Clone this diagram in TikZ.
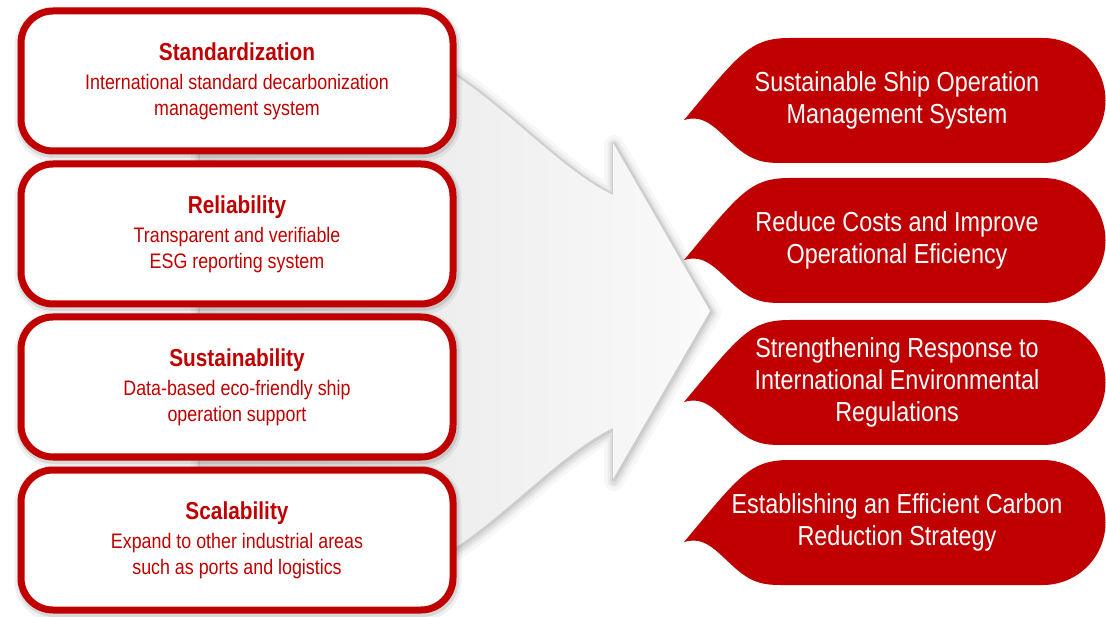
\documentclass[tikz,border=0pt]{standalone}
\usepackage{fontspec}
\setmainfont[FakeStretch=0.85]{Liberation Sans}
\usepackage{tikz}
\usetikzlibrary{positioning}
\usetikzlibrary{shadows}
\definecolor{darkred}{HTML}{C00000}
\newcommand{\boxtitle}[1]{{\bfseries\fontsize{24.5}{26}\selectfont #1}}
\newcommand{\arrowoutline}{(200,40) -- (440,66) .. controls (500,100) and (560,170) .. (613,195) -- (613,143) -- (710,311) -- (613,479) -- (613,428) .. controls (560,453) and (500,523) .. (440,557) -- (200,583) -- cycle}

\begin{document}
\begin{tikzpicture}[x=1pt, y=-1pt,
    valuebox/.style={draw=darkred, line width=7pt, fill=white, outer sep=0pt,
    rounded corners=32pt, minimum width=432pt, minimum height=140pt,
    align=center, text=darkred, font=\fontsize{21}{26}\selectfont,
    general shadow={fill=none, draw=black, line width=15pt, opacity=0.06, shadow xshift=1pt, shadow yshift=-3pt},
    general shadow={fill=none, draw=black, line width=10pt, opacity=0.1, shadow xshift=1pt, shadow yshift=-2pt}},
    tagtext/.style={align=center, text=white, font=\fontsize{27.5}{32}\selectfont},
    redtag/.pic={
    \fill[darkred] (0,82) .. controls (56,15) and (66,0) .. (106,0) -- (359,0)
        .. controls (393.5,0) and (421.5,28) .. (421.5,62.5)
        .. controls (421.5,97) and (393.5,125) .. (359,125) -- (96,125)
        .. controls (76,125) and (66,121) .. (51,108)
        .. controls (31,90) and (21,76) .. (0,82) -- cycle;
    }]

    \useasboundingbox (0,0) rectangle (1106,617);

    % pale arrow behind the boxes
    \draw[black, line width=20pt, opacity=0.03, line join=round, shift={(1,2)}] \arrowoutline;
    \draw[black, line width=13pt, opacity=0.045, line join=round, shift={(1,2)}] \arrowoutline;
    \draw[black, line width=8pt, opacity=0.06, line join=round, shift={(1,2)}] \arrowoutline;
    \draw[black, line width=4pt, opacity=0.08, line join=round, shift={(1,1)}] \arrowoutline;
    \shade[left color=black!11, right color=black!2] \arrowoutline;

    \node[valuebox] (std) at (237,81) {\boxtitle{Standardization}\\[3pt]
        International standard decarbonization\\management system};
    \node[valuebox, below=13pt of std] (rel) {\boxtitle{Reliability}\\[3pt]
        Transparent and verifiable\\ESG reporting system};
    \node[valuebox, below=13pt of rel] (sus) {\boxtitle{Sustainability}\\[3pt]
        Data-based eco-friendly ship\\operation support};
    \node[valuebox, below=13pt of sus] (sca) {\boxtitle{Scalability}\\[3pt]
        Expand to other industrial areas\\such as ports and logistics};

    \pic at (684,38) {redtag};
    \pic at (684,178) {redtag};
    \pic at (684,320) {redtag};
    \pic at (684,460) {redtag};

    \node[tagtext] (ship) at (897,100) {Sustainable Ship Operation\\Management System};
    \node[tagtext] (cost) at (897,240) {Reduce Costs and Improve\\Operational Eficiency};
    \node[tagtext] (regs) at (897,382) {Strengthening Response to\\International Environmental\\Regulations};
    \node[tagtext] (carb) at (897,522) {Establishing an Efficient Carbon\\Reduction Strategy};
\end{tikzpicture}
\end{document}
